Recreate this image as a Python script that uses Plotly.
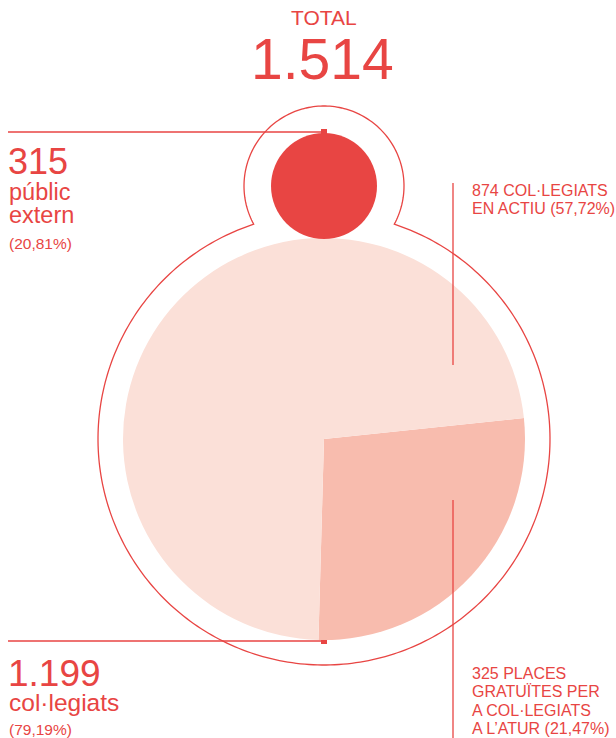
import numpy as np
import plotly.graph_objects as go

# ---- data ----
total_label = "TOTAL"
total_value = "1.514"
pie_labels = ["325 places gratuïtes per a col·legiats a l'atur", "874 col·legiats en actiu"]
pie_values = [325, 874]
left_top = ["315", "públic", "extern", "(20,81%)"]
left_bottom = ["1.199", "col·legiats", "(79,19%)"]
right_top = ["874 COL·LEGIATS", "EN ACTIU (57,72%)"]
right_bottom = ["325 PLACES", "GRATUÏTES PER", "A COL·LEGIATS", "A L\u2019ATUR (21,47%)"]

RED = "#E84543"
LIGHT = "#FBE0D8"
DARK = "#F8BCAE"
W, H = 616, 738
FONT = "Liberation Sans, Arial, sans-serif"

# geometry (pixels)
cx, cy_big, r_pie = 324, 439, 201
cy_small, r_small = 186, 53
r_out_big, r_out_small = 226, 80

fig = go.Figure()

# pie
fig.add_trace(go.Pie(
    values=pie_values, labels=pie_labels, sort=False, direction="clockwise",
    rotation=84, marker=dict(colors=[DARK, LIGHT], line=dict(width=0)),
    textinfo="none", hoverinfo="label+value", showlegend=False,
    domain=dict(x=[(cx - r_pie) / W, (cx + r_pie) / W],
                y=[(H - cy_big - r_pie) / H, (H - cy_big + r_pie) / H]),
))

# outline path: union of two circles
d = cy_big - cy_small
a = (d**2 + r_out_small**2 - r_out_big**2) / (2 * d)
h = np.sqrt(r_out_small**2 - a**2)
s_start = np.arctan2(-a, -h) + 2 * np.pi   # left intersection (small circle), ~209 deg
s_end = np.arctan2(-a, h)                  # right intersection (small circle), ~-29 deg
angles1 = np.linspace(s_start, s_end, 140)
pts = [(cx + r_out_small * np.cos(t), cy_small - r_out_small * np.sin(t)) for t in angles1]
b_start = np.arctan2(d - a, h)             # right intersection (big circle), ~72 deg
b_end = np.arctan2(d - a, -h) - 2 * np.pi  # left intersection (big circle), ~-252 deg
angles2 = np.linspace(b_start, b_end, 300)
pts += [(cx + r_out_big * np.cos(t), cy_big - r_out_big * np.sin(t)) for t in angles2]
path = "M " + " L ".join(f"{x:.2f},{y:.2f}" for x, y in pts) + " Z"

shapes = [
    dict(type="path", path=path, line=dict(color=RED, width=1.3), layer="above",
         xref="x", yref="y"),
    dict(type="circle", x0=cx - r_small, x1=cx + r_small, y0=cy_small - r_small, y1=cy_small + r_small,
         fillcolor=RED, line=dict(width=0), xref="x", yref="y"),
    dict(type="line", x0=8, x1=cx, y0=132, y1=132, line=dict(color=RED, width=1.3), xref="x", yref="y"),
    dict(type="line", x0=8, x1=cx, y0=641, y1=641, line=dict(color=RED, width=1.3), xref="x", yref="y"),
    dict(type="line", x0=453, x1=453, y0=183, y1=365, line=dict(color=RED, width=1.3), xref="x", yref="y"),
    dict(type="line", x0=453, x1=453, y0=500, y1=740, line=dict(color=RED, width=1.3), xref="x", yref="y"),
]

fig.add_trace(go.Scatter(
    x=[cx, cx, 453, 453], y=[132, 641, 365, 500], mode="markers",
    marker=dict(symbol="square", size=6, color=RED, line=dict(width=0)),
    showlegend=False, hoverinfo="skip",
))

ann = []
def txt(s, x, y, size, anchor="left"):
    ann.append(dict(text=s, x=x, y=y, xref="x", yref="y", xanchor=anchor, yanchor="middle",
                    showarrow=False, font=dict(family=FONT, size=size, color=RED)))

txt(total_label, cx, 17, 21, "center")
txt(total_value, 322, 59, 57, "center")

txt(left_top[0], 6, 161, 36)
txt(left_top[1], 7, 192, 23.5)
txt(left_top[2], 7, 215, 23.5)
txt(left_top[3], 7, 243, 15.5)

txt(left_bottom[0], 6, 673, 37)
txt(left_bottom[1], 7, 702, 24.5)
txt(left_bottom[2], 7, 729, 15.5)

txt(right_top[0], 470, 190, 16)
txt(right_top[1], 470, 208, 16)
for i, s in enumerate(right_bottom):
    txt(s, 470, 673 + i * 18.5, 16)

fig.update_layout(
    width=W, height=H, margin=dict(l=0, r=0, t=0, b=0),
    paper_bgcolor="white", plot_bgcolor="rgba(0,0,0,0)",
    xaxis=dict(range=[0, W], visible=False, fixedrange=True, domain=[0, 1]),
    yaxis=dict(range=[H, 0], visible=False, fixedrange=True, domain=[0, 1]),
    shapes=shapes, annotations=ann, showlegend=False,
)

fig.write_html("out.html", config={"displayModeBar": False},
               post_script="document.body.style.margin='0';document.body.style.padding='0';")
